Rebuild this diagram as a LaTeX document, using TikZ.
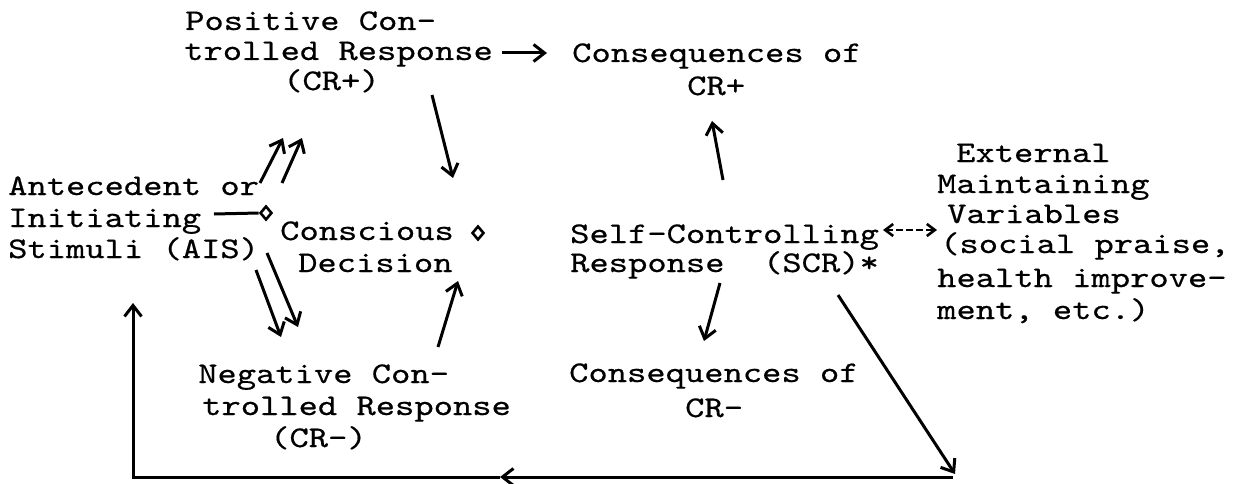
\documentclass[tikz,border=0pt]{standalone}
\usepackage{fontspec}
\newfontfamily\tw{lmmono10-regular.otf}[FakeStretch=1.225,FakeBold=0.5]
\usetikzlibrary{arrows.meta,shapes.geometric}
\begin{document}
\begin{tikzpicture}[x=1pt,y=-1pt,
  txt/.style={font=\tw\fontsize{30}{32}\selectfont, anchor=base west, inner sep=0pt},
  conn/.style={line width=3pt, -{Straight Barb[length=11pt,width=17pt,line width=3pt]}},
  both/.style={line width=2.6pt, dash pattern=on 7pt off 3pt,
    {Straight Barb[length=8pt,width=12pt,line width=2.6pt]}-{Straight Barb[length=8pt,width=12pt,line width=2.6pt]}},
  plain/.style={line width=3pt},
  dmd/.style={diamond, draw, line width=2.6pt, inner sep=0pt, minimum width=12pt, minimum height=14pt}]
\useasboundingbox[fill=white] (0,0) rectangle (1236,484);

% texts
\node[txt] (cp1) at (185,30) {Positive Con-};
\node[txt] (cp2) at (184,60) {trolled Response};
\node[txt] (cp3) at (283,90) {(CR+)};
\node[txt] (qp1) at (572,62) {Consequences of};
\node[txt] (qp2) at (687,95) {CR+};
\node[txt] (ais1) at (8,195) {Antecedent or};
\node[txt] (ais2) at (8,227) {Initiating};
\node[txt] (ais3) at (8,258) {Stimuli (AIS)};
\node[txt] (cd1) at (280,240) {Conscious};
\node[txt] (cd2) at (298,272) {Decision};
\node[txt] (scr1) at (570,243) {Self-Controlling};
\node[txt] (scr2) at (570,272) {Response~~(SCR)*};
\node[txt] (ex1) at (956,162) {External};
\node[txt] (ex2) at (937,193) {Maintaining};
\node[txt] (ex3) at (947,223) {Variables};
\node[txt] (ex4) at (940,253) {(social praise,};
\node[txt] (ex5) at (937,287) {health improve-};
\node[txt] (ex6) at (937,319) {ment, etc.)};
\node[txt] (cm1) at (198,383) {Negative Con-};
\node[txt] (cm2) at (202,415) {trolled Response};
\node[txt] (cm3) at (270,447) {(CR-)};
\node[txt] (qm1) at (569,382) {Consequences of};
\node[txt] (qm2) at (685,417) {CR-};

% diamonds
\node[dmd] (dm1) at (266,213) {};
\node[dmd] (dm2) at (478,233) {};

% connector end points
\coordinate (p1s) at (502,53);  \coordinate (p1e) at (547,53);
\coordinate (p2s) at (432,95);  \coordinate (p2e) at (453,178);
\coordinate (u1s) at (260,183); \coordinate (u1e) at (283,138);
\coordinate (u2s) at (282,183); \coordinate (u2e) at (302,138);
\coordinate (l1s) at (214,214);
\coordinate (d1s) at (256,270); \coordinate (d1e) at (281,337);
\coordinate (d2s) at (267,253); \coordinate (d2e) at (298,327);
\coordinate (n1s) at (438,347); \coordinate (n1e) at (458,281);
\coordinate (s1s) at (723,180); \coordinate (s1e) at (712,121);
\coordinate (s2s) at (720,283); \coordinate (s2e) at (704,341);
\coordinate (x1s) at (883,230); \coordinate (x1e) at (937,230);
\coordinate (g1s) at (838,295); \coordinate (g1e) at (955,474);
\coordinate (b1) at (953,477);  \coordinate (bm) at (500,477);
\coordinate (b2) at (133,477);  \coordinate (b3) at (133,303);

% connectors
\draw[conn] (p1s) -- (p1e);
\draw[conn] (p2s) -- (p2e);
\draw[conn] (u1s) -- (u1e);
\draw[conn] (u2s) -- (u2e);
\draw[plain] (l1s) -- (dm1.west);
\draw[conn] (d1s) -- (d1e);
\draw[conn] (d2s) -- (d2e);
\draw[conn] (n1s) -- (n1e);
\draw[conn] (s1s) -- (s1e);
\draw[conn] (s2s) -- (s2e);
\draw[both] (x1s) -- (x1e);
\draw[conn] (g1s) -- (g1e);
\draw[conn] (b1) -- (bm);
\draw[conn] (bm) -- (b2) -- (b3);
\end{tikzpicture}
\end{document}
